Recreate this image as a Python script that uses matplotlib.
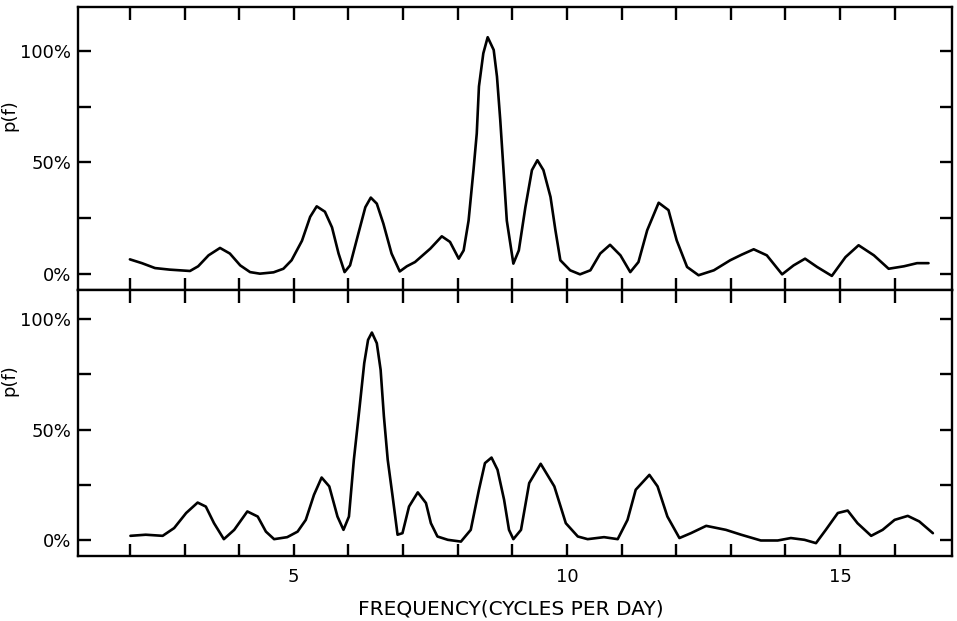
import matplotlib
matplotlib.use("Agg")
import matplotlib.pyplot as plt

# ---- data ----
top_freq = [2.0, 2.22, 2.46, 2.73, 3.1, 3.25, 3.44, 3.65, 3.83, 4.02, 4.2, 4.38, 4.63,
            4.81, 4.96, 5.15, 5.3, 5.42, 5.57, 5.7, 5.82, 5.93, 6.03, 6.18, 6.31, 6.41,
            6.52, 6.64, 6.79, 6.94, 7.07, 7.22, 7.36, 7.5, 7.71, 7.86, 8.02, 8.11, 8.2,
            8.29, 8.35, 8.39, 8.47, 8.55, 8.66, 8.72, 8.78, 8.84, 8.9, 9.02, 9.12, 9.24,
            9.36, 9.46, 9.57, 9.7, 9.79, 9.88, 10.06, 10.24, 10.43, 10.61, 10.79, 10.98,
            11.16, 11.31, 11.47, 11.68, 11.86, 12.01, 12.2, 12.41, 12.69, 12.99, 13.2,
            13.42, 13.66, 13.94, 14.15, 14.36, 14.58, 14.85, 15.1, 15.34, 15.62, 15.89,
            16.17, 16.41, 16.62]
top_power = [6.7, 5.0, 2.8, 2.1, 1.5, 3.6, 8.5, 11.8, 9.3, 4.0, 1.0, 0.3, 0.9,
             2.5, 6.3, 15, 25.7, 30.4, 28, 21, 9.3, 1.0, 4.0, 18, 30, 34.3,
             31.6, 22.7, 9.3, 1.3, 3.6, 5.5, 8.5, 11.5, 17, 14.5, 7.0, 10.7, 24,
             46.6, 63, 84, 98.8, 106, 100.3, 88.4, 69, 46.6, 24, 4.8, 10.7, 30,
             46.6, 51, 46.6, 34.6, 19.7, 6.3, 1.8, 0.0, 1.8, 9.3, 13.2, 8.5,
             1.0, 5.5, 19.7, 32, 28.7, 15.2, 3.3, -0.4, 1.8, 6.3, 8.8,
             11.2, 8.5, 0.0, 4.0, 7.0, 3.3, -0.7, 7.7, 13, 8.5, 2.5,
             3.6, 5.0, 5.0]

bottom_freq = [2.01, 2.29, 2.6, 2.81, 3.03, 3.24, 3.39, 3.54, 3.72, 3.91, 4.15, 4.34,
               4.49, 4.64, 4.88, 5.07, 5.22, 5.37, 5.51, 5.65, 5.8, 5.91, 6.01, 6.1,
               6.2, 6.29, 6.36, 6.43, 6.52, 6.59, 6.65, 6.72, 6.81, 6.9, 6.99, 7.11,
               7.27, 7.42, 7.51, 7.63, 7.82, 8.06, 8.24, 8.39, 8.5, 8.62, 8.73, 8.85,
               8.94, 9.02, 9.16, 9.31, 9.52, 9.77, 9.98, 10.2, 10.38, 10.68, 10.93,
               11.11, 11.26, 11.51, 11.66, 11.84, 12.06, 12.27, 12.55, 12.91, 13.19,
               13.55, 13.86, 14.1, 14.35, 14.56, 14.74, 14.96, 15.14, 15.32, 15.57,
               15.78, 16.0, 16.24, 16.45, 16.7]
bottom_power = [2.1, 2.6, 2.1, 5.6, 12.4, 17.1, 15.3, 7.8, 0.6, 4.8, 13.1, 10.8,
                4.0, 0.6, 1.5, 4.0, 9.3, 20.6, 28.4, 24.4, 10.8, 4.8, 10.8, 36.4,
                59, 80, 90.5, 93.8, 89, 77, 56, 36.4, 19.8, 2.6, 3.3, 15.3,
                21.7, 16.9, 7.8, 1.8, 0.3, -0.5, 4.8, 22.9, 34.9, 37.4, 31.9, 18.4,
                4.8, 0.6, 4.8, 25.9, 34.6, 24.4, 7.8, 1.8, 0.6, 1.5, 0.6,
                9.3, 22.9, 29.6, 24.4, 10.8, 1.1, 3.3, 6.6, 4.8, 2.6,
                0.0, 0.0, 1.1, 0.3, -1.2, 4.8, 12.4, 13.5, 7.8, 2.1,
                4.8, 9.3, 11.1, 8.6, 3.3]

x_ticks = list(range(2, 17))
x_ticklabels = ["5" if t == 5 else "10" if t == 10 else "15" if t == 15 else "" for t in x_ticks]
y_ticks = [0, 25, 50, 75, 100]
y_ticklabels = ["0%", "", "50%", "", "100%"]
x_label = "FREQUENCY(CYCLES PER DAY)"
y_label = "p(f)"

plt.rcParams['font.family'] = ['DejaVu Sans']

fig = plt.figure(figsize=(9.57, 6.21), dpi=100)
W, H = 957.0, 621.0
left = 78 / W
width = (952 - 78) / W
ax_top = fig.add_axes([left, (H - 290) / H, width, 283 / H])
ax_bot = fig.add_axes([left, (H - 556) / H, width, 266 / H])

for ax, f, p, ylim, lab_y in [(ax_top, top_freq, top_power, (-7, 119.5), 0.618),
                               (ax_bot, bottom_freq, bottom_power, (-7, 113), 0.662)]:
    ax.plot(f, p, color='black', linewidth=1.9, solid_joinstyle='round', solid_capstyle='round')
    ax.set_xlim(1.05, 17.05)
    ax.set_ylim(*ylim)
    for s in ax.spines.values():
        s.set_linewidth(1.7)
    ax.set_xticks(x_ticks)
    ax.set_yticks(y_ticks)
    ax.set_yticklabels(y_ticklabels, fontsize=13)
    ax.tick_params(axis='both', direction='in', length=9, width=1.7,
                   top=True, right=True, bottom=True, left=True)
    ax.tick_params(axis='y', pad=5)
    ax.set_ylabel(y_label, fontsize=13)
    ax.yaxis.set_label_coords(-0.068, lab_y)

ax_top.set_xticklabels([])
ax_bot.set_xticklabels(x_ticklabels, fontsize=13)
ax_bot.tick_params(axis='x', pad=9)
ax_bot.set_xlabel(x_label, fontsize=14.5)
ax_bot.xaxis.set_label_coords(0.495, -0.165)

fig.savefig("out.png", dpi=100)
